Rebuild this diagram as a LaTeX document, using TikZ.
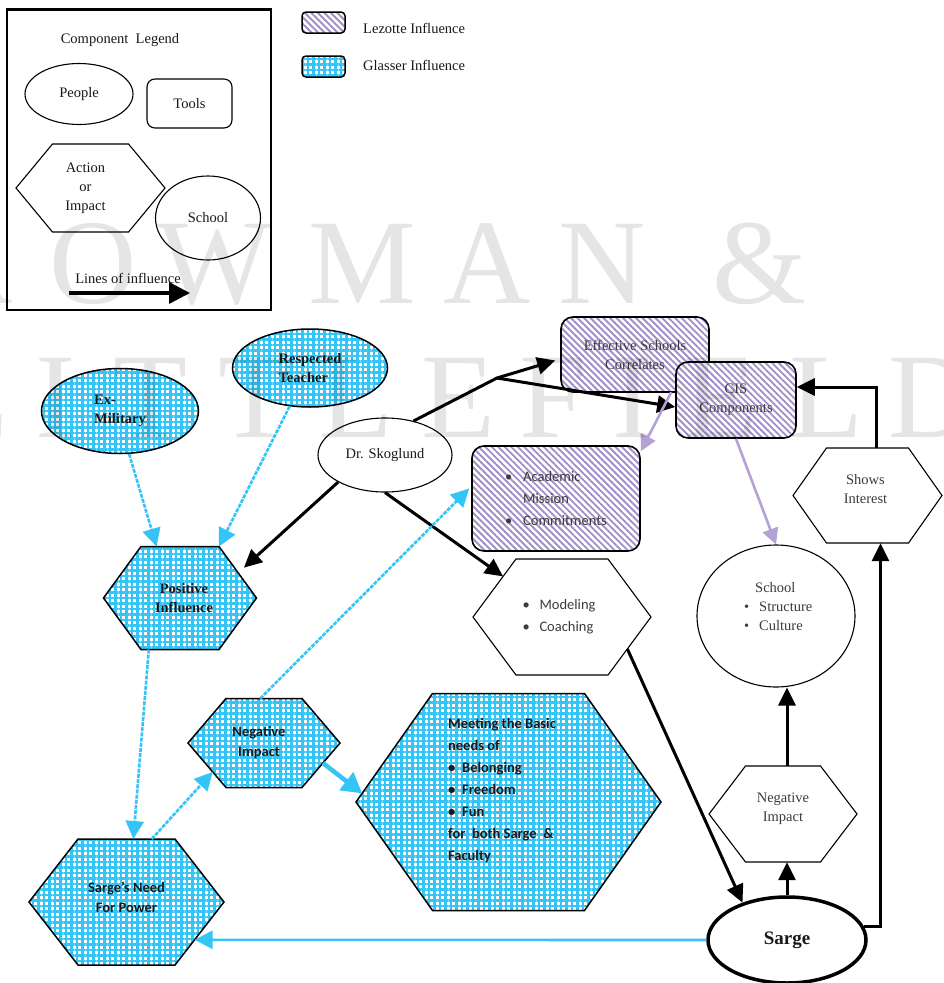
\documentclass[tikz,border=0pt]{standalone}
\usepackage{fontspec}
\setmainfont{Liberation Serif}
\newfontfamily\calfont{Carlito}
\usetikzlibrary{arrows.meta,patterns.meta,calc,shapes.geometric}

\definecolor{glasser}{RGB}{52,196,245}
\definecolor{lezotte}{RGB}{160,142,200}
\definecolor{lezarrow}{RGB}{180,162,214}
\definecolor{ink}{RGB}{25,25,25}
\definecolor{softink}{RGB}{60,60,60}

% stretched hexagon: name, cx, cy, half width, half height, half top edge,
% outline style, text options, text
\newcommand\hexnode[9]{%
  \coordinate (#1-nw) at (#2-#6,#3-#5);
  \coordinate (#1-ne) at (#2+#6,#3-#5);
  \coordinate (#1-e)  at (#2+#4,#3);
  \coordinate (#1-se) at (#2+#6,#3+#5);
  \coordinate (#1-sw) at (#2-#6,#3+#5);
  \coordinate (#1-w)  at (#2-#4,#3);
  \path[#7] (#1-nw) -- (#1-ne) -- (#1-e) -- (#1-se) -- (#1-sw) -- (#1-w) -- cycle;
  \node[inner sep=0pt, minimum width=2*#4, minimum height=2*#5] (#1) at (#2,#3) {};
  \node[#8] (#1-t) at (#2,#3) {#9};
}

\begin{document}
\begin{tikzpicture}[x=1pt,y=-1pt,
  every node/.style={font=\fontsize{14.5}{19}\selectfont, text=ink},
  tm/.style={font=\fontsize{14.5}{19}\selectfont, align=center},
  tmb/.style={font=\bfseries\fontsize{14.5}{19}\selectfont, align=center},
  cal/.style={font=\calfont\fontsize{14.5}{22}\selectfont, align=left, text=softink},
  calb/.style={font=\calfont\bfseries\fontsize{14.5}{20}\selectfont, align=center},
  gfill/.style={preaction={fill=white},
    pattern={Hatch[angle=0,distance=5.5pt,line width=2.7pt]}, pattern color=glasser},
  lfill/.style={preaction={fill=white},
    pattern={Lines[angle=-45,distance=4.6pt,line width=1.9pt]}, pattern color=lezotte},
  person/.style={ellipse, draw, line width=1.1pt, inner sep=0pt, fill=white},
  personG/.style={ellipse, draw, line width=1.5pt, inner sep=0pt, gfill},
  lezbox/.style={draw, line width=1.6pt, rounded corners=12pt, inner sep=0pt, lfill},
  hexw/.style={draw, line width=1.1pt, fill=white},
  hexg/.style={draw, line width=1.5pt, gfill},
  blk/.style={draw=black, line width=3pt, -{Triangle[length=18pt,width=17pt]}},
  blu/.style={draw=glasser, line width=2.6pt, dash pattern=on 4pt off 1.2pt,
    -{Triangle[length=18pt,width=18pt]}},
  blusolid/.style={blu, solid},
  pur/.style={draw=lezarrow, line width=2.6pt, -{Triangle[length=16pt,width=16pt]}}]

\useasboundingbox (0,0) rectangle (944,983);
\fill[white] (0,0) rectangle (944,983);

% ---------- component legend ----------
\draw[line width=1.2pt] (7,9) rectangle (271,310);
\draw[line width=3pt] (7,9) -- (271,9);
\node[tm] (legtitle) at (120,40) {Component\ \ Legend};
\node[person, minimum width=108pt, minimum height=61pt] (people) at (79,94) {People};
\node[draw, line width=1.1pt, rounded corners=8pt, minimum width=85pt, minimum height=49pt]
  (tools) at (189.5,103.5) {Tools};
\hexnode{lact}{90.5}{188}{74.5}{44}{38}{hexw}{tm, xshift=-5pt}{Action\\or\\Impact}
\node[person, minimum width=105pt, minimum height=84pt] (lschool) at (208,218) {School};
\coordinate (la1) at (69,293);
\coordinate (la2) at (190,293);
\draw[blk, line width=3.5pt, -{Triangle[length=21pt,width=21pt]}] (la1) -- (la2);
\node[tm] (latxt) at (128,278) {Lines of influence};

% ---------- influence swatches ----------
\node[draw, line width=1.5pt, rounded corners=4pt, minimum width=43pt, minimum height=21pt, lfill]
  (swl) at (323.5,22.5) {};
\node[tm, anchor=west, inner sep=0pt] (swltxt) at (363,28) {Lezotte Influence};
\node[draw, line width=1.5pt, rounded corners=4pt, minimum width=43pt, minimum height=21pt, gfill]
  (swg) at (323.5,66.5) {};
\node[tm, anchor=west, inner sep=0pt] (swgtxt) at (363,65) {Glasser Influence};

% ---------- people ----------
\node[personG, minimum width=157pt, minimum height=85pt, tmb, align=left] (ex) at (120,411) {Ex-\\Military};
\node[personG, minimum width=155pt, minimum height=78pt, tmb, align=left] (rt) at (310,368) {Respected\\Teacher};
\node[person, minimum width=134pt, minimum height=74pt] (sk) at (385,455) {Dr. Skoglund};
\node[ellipse, draw, line width=3.5pt, inner sep=0pt, fill=white, minimum width=158pt, minimum height=86pt,
  font=\bfseries\fontsize{19}{22}\selectfont] (sarge) at (787,940) {Sarge};

% ---------- tools ----------
\node[lezbox, minimum width=148pt, minimum height=75pt, tm, text=softink] (esc) at (635,354.5)
  {Effective Schools\\Correlates};
\node[lezbox, minimum width=120pt, minimum height=76pt, tm, text=softink] (cis) at (736,400)
  {CIS\\Components};
\node[lezbox, minimum width=168pt, minimum height=105pt, cal] (acad) at (556,498.5)
  {\makebox[18pt][l]{•}Academic\\\hspace*{18pt}Mission\\\makebox[18pt][l]{•}Commitments};

% ---------- actions and impacts ----------
\hexnode{pos}{180}{598}{76.5}{51.5}{39}{hexg}{tmb, xshift=4pt}{Positive\\Influence}
\hexnode{negb}{264}{743}{76}{44.5}{38}{hexg}{calb, xshift=-5pt}{Negative\\Impact}
\hexnode{need}{126.5}{902}{97.5}{63}{48.5}{hexg}{calb, yshift=5pt}{Sarge’s Need\\For Power}
\hexnode{meet}{508.5}{802}{152.5}{108.5}{76}{hexg}
  {calb, align=left, font=\calfont\bfseries\fontsize{14.5}{22}\selectfont, xshift=-6.5pt, yshift=11pt}
  {Meeting the Basic\\needs of\\\makebox[14pt][l]{•}Belonging\\\makebox[14pt][l]{•}Freedom\\\makebox[14pt][l]{•}Fun\\for\ \ both Sarge\ \ \&\\Faculty}
\hexnode{mod}{562}{617}{89}{58}{46}{hexw}{cal, xshift=-3pt}
  {\makebox[17pt][l]{•}Modeling\\\makebox[17pt][l]{•}Coaching}
\hexnode{si}{867.5}{495.5}{74.5}{47.5}{41}{hexw}{tm, xshift=-2pt, yshift=6pt, text=softink}{Shows\\Interest}
\hexnode{ni}{783}{814}{74}{48}{37.5}{hexw}{tm, yshift=5pt, text=softink}{Negative\\Impact}

% ---------- school ----------
\node[ellipse, draw, line width=1.1pt, inner sep=0pt, fill=white, minimum width=158pt, minimum height=142pt]
  (school) at (776,616) {};
\node[tm, align=left, anchor=north west, inner sep=0pt, text=softink] (school-t) at (744,582)
  {\hspace*{11pt}School\\\makebox[15pt][l]{•}Structure\\\makebox[15pt][l]{•}Culture};

% ---------- lines of influence ----------
\coordinate (jn) at (497,378);
\draw[blk] (sk.50) -- (jn) -- ($(esc.west)+(-5,6)$);
\draw[blk] (jn) -- ($(cis.west)+(0,7)$);
\draw[blk] (sk.-150) -- ($(pos-ne)!0.45!(pos-e)+(8,-2)$);
\draw[blk] (sk.south) -- ($(mod-nw)!0.3!(mod-w)$);
\draw[blk] ($(mod-e)!0.55!(mod-se)$) -- (sarge.140);
\draw[blk] (sarge.north) -- (sarge.north |- ni.south);
\draw[blk] (sarge.north |- ni.north) -- (sarge.north |- school.south);
\draw[blk, line join=miter] (sarge.10) -| ($(si.south)+(13,0)$);
\draw[blk, line join=miter] ($(si.north)+(9,0)$) |- ($(cis.east)+(0,-13)$);

\draw[pur] ($(cis.north west)+(-4,31)$) -- ($(acad.north east)+(0,6)$);
\draw[pur] (cis.south) -- (school.north);

\draw[blu] (ex.-78) -- ($(pos-nw)!0.2!(pos-ne)$);
\draw[blu] (rt.-118) -- (pos-ne);
\draw[blu] ($(pos-sw)!0.1!(pos-se)$) -- ($(need-nw)!0.57!(need-ne)$);
\draw[blu] ($(need-nw)!0.76!(need-ne)$) -- ($(negb-sw)!0.35!(negb-w)$);
\draw[blu] ($(negb-nw)!0.45!(negb-ne)$) -- ($(acad.west)+(-2,-10)$);
\draw[blusolid, line width=4.5pt, -{Triangle[length=20pt,width=22pt]}]
  ($(negb-e)!0.45!(negb-se)$) -- ($(meet-w)!0.08!(meet-nw)$);
\draw[blusolid] (sarge.west) -- ($(need-e)!0.6!(need-se)$);

% ---------- publisher mark ----------
\begin{scope}[every node/.style={font=\fontsize{121}{121}\selectfont, text=black,
    text opacity=0.1, anchor=base, inner sep=0pt}]
  \foreach \ch/\cx [count=\i] in {R/-28,O/93,W/215,M/362,A/487,N/602,\&/760}
    \node (wmA\i) at (\cx,303) {\ch};
  \foreach \ch/\cx [count=\i] in {L/-28,I/56,T/150,T/255,L/356,E/458,F/553,I/633,E/720,L/826,D/932}
    \node (wmB\i) at (\cx,437) {\ch};
\end{scope}
\end{tikzpicture}
\end{document}
